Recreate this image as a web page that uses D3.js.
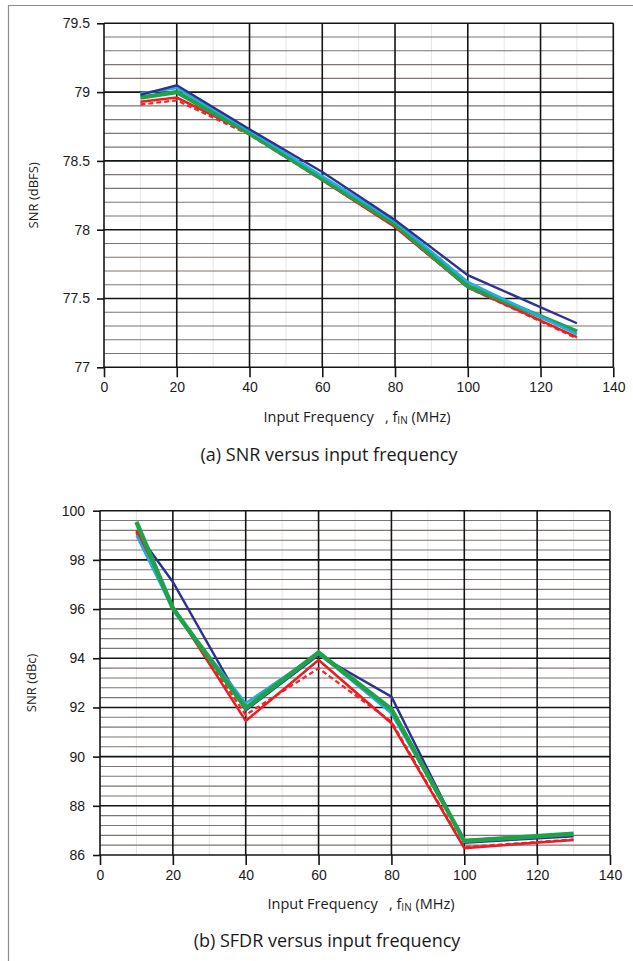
<!DOCTYPE html>
<html><head><meta charset="utf-8">
<script src="https://cdn.jsdelivr.net/npm/d3@7"></script>
<style>
html,body{margin:0;padding:0;background:#fff;}
svg{display:block;font-family:"Open Sans","Noto Sans",sans-serif;}
</style></head>
<body>
<svg id="c" width="633" height="961"></svg>
<script>
// ---------- data ----------
const freqs = [10, 20, 40, 60, 80, 100, 130];
const xTicks = [0, 20, 40, 60, 80, 100, 120, 140];

// (a) SNR (dBFS)
const snrTicks = [77, 77.5, 78, 78.5, 79, 79.5];
const snrNavy   = [78.98, 79.05, 78.73, 78.42, 78.07, 77.67, 77.32];
const snrCyan   = [78.99, 79.03, 78.72, 78.39, 78.06, 77.62, 77.24];
const snrGreen  = [78.96, 79.00, 78.70, 78.37, 78.04, 77.59, 77.26];
const snrRed    = [78.93, 78.96, 78.70, 78.36, 78.02, 77.58, 77.22];
const snrRedDash= [78.91, 78.94, 78.69, 78.36, 78.02, 77.58, 77.21];

// (b) SFDR (dBc)
const sfdrTicks = [86, 88, 90, 92, 94, 96, 98, 100];
const sfdrNavy   = [99.15, 97.10, 91.88, 94.13, 92.44, 86.50, 86.76];
const sfdrCyan   = [99.00, 96.00, 92.17, 94.20, 91.76, 86.60, 86.85];
const sfdrGreen  = [99.55, 96.03, 91.97, 94.23, 91.93, 86.57, 86.86];
const sfdrRed    = [99.21, 96.10, 91.45, 93.93, 91.36, 86.28, 86.61];
const sfdrRedDash= [99.10, 96.05, 91.70, 93.59, 91.42, 86.32, 86.63];

const styles = {
  navy:    {color:"#2e3192", width:2.4, dash:null},
  redDash: {color:"#ee2a24", width:2.3, dash:"5,3"},
  red:     {color:"#ed1c24", width:2.5, dash:null},
  green:   {color:"#1ea34b", width:4.5, dash:null},
  cyan:    {color:"#27aae1", width:2.6, dash:null}
};

const svg = d3.select("#c");

// frame
svg.append("line").attr("x1",8.5).attr("x2",8.5).attr("y1",5).attr("y2",961).attr("stroke","#8c8c8c").attr("stroke-width",1.2);
svg.append("line").attr("x1",8).attr("x2",633).attr("y1",5.5).attr("y2",5.5).attr("stroke","#8c8c8c").attr("stroke-width",1.2);

function drawChart(cfg){
  const g = svg.append("g");
  const x = d3.scaleLinear().domain([0,140]).range([cfg.x0, cfg.x1]);
  const y = d3.scaleLinear().domain(cfg.yDomain).range([cfg.y0, cfg.y1]);

  // faint minor verticals
  g.selectAll(".fv").data(d3.range(10,140,10).filter(v=>v%20!==0)).enter().append("line")
    .attr("x1",d=>x(d)).attr("x2",d=>x(d)).attr("y1",cfg.y1).attr("y2",cfg.y0)
    .attr("stroke","#e6e6e6").attr("stroke-width",1);

  // minor horizontals
  const minors = d3.range(cfg.yDomain[0], cfg.yDomain[1]+1e-9, cfg.minorStep)
    .filter(v => !cfg.ticks.some(t=>Math.abs(t-v)<1e-6));
  g.selectAll(".mh").data(minors).enter().append("line")
    .attr("x1",cfg.x0).attr("x2",cfg.x1).attr("y1",d=>y(d)).attr("y2",d=>y(d))
    .attr("stroke","#7e7471").attr("stroke-width",1.1);

  // major grid
  g.selectAll(".Mh").data(cfg.ticks).enter().append("line")
    .attr("x1",cfg.x0).attr("x2",cfg.x1).attr("y1",d=>y(d)).attr("y2",d=>y(d))
    .attr("stroke","#141414").attr("stroke-width",1.6);
  g.selectAll(".Mv").data(xTicks).enter().append("line")
    .attr("x1",d=>x(d)).attr("x2",d=>x(d)).attr("y1",cfg.y1).attr("y2",cfg.y0)
    .attr("stroke","#141414").attr("stroke-width",1.6);

  // axes
  const ya = g.append("g").attr("transform",`translate(${cfg.x0},0)`)
    .call(d3.axisLeft(y).tickValues(cfg.ticks).tickSize(7).tickPadding(cfg.yPad).tickFormat(d=>d3.format("")(d)));
  const xa = g.append("g").attr("transform",`translate(0,${cfg.y0})`)
    .call(d3.axisBottom(x).tickValues(xTicks).tickSize(10).tickPadding(5).tickFormat(d3.format("d")));
  [ya,xa].forEach(a=>{
    a.select(".domain").remove();
    a.selectAll(".tick line").attr("stroke","#141414").attr("stroke-width",1.6);
    a.selectAll("text").attr("fill","#1a1a1a").attr("font-size",14);
  });

  // series
  const line = d3.line().x((d,i)=>x(freqs[i])).y(d=>y(d));
  cfg.order.forEach(k=>{
    const s = styles[k];
    g.append("path").datum(cfg.data[k]).attr("d",line)
      .attr("fill","none").attr("stroke",s.color).attr("stroke-width",s.width)
      .attr("stroke-linejoin","miter").attr("stroke-dasharray",s.dash);
  });

  // y title
  g.append("text").attr("transform",`translate(${cfg.yTitleX},${(cfg.y0+cfg.y1)/2}) rotate(-90)`)
    .attr("text-anchor","middle").attr("dominant-baseline","middle")
    .attr("font-size",13).attr("fill","#1a1a1a").text(cfg.yTitle);

  // x title
  const xt = g.append("text").attr("x",cfg.xTitleX).attr("y",cfg.xTitleY)
    .attr("text-anchor","middle").attr("dominant-baseline","middle")
    .attr("font-size",14.5).attr("fill","#1a1a1a");
  xt.append("tspan").text("Input Frequency\u00a0\u00a0\u00a0, f");
  xt.append("tspan").attr("font-size",10).attr("dy",3).text("IN");
  xt.append("tspan").attr("dy",-3).text("\u00a0(MHz)");

  // caption
  g.append("text").attr("x",cfg.capX).attr("y",cfg.capY)
    .attr("text-anchor","middle").attr("dominant-baseline","middle")
    .attr("font-size",18).attr("fill","#1a1a1a").text(cfg.caption);
}

drawChart({
  x0:104, x1:613.3, y0:367.3, y1:23.3,
  yDomain:[77,79.5], ticks:snrTicks, minorStep:0.1, yPad:7,
  order:["redDash","red","green","cyan","navy"],
  data:{navy:snrNavy, cyan:snrCyan, green:snrGreen, red:snrRed, redDash:snrRedDash},
  yTitle:"SNR (dBFS)", yTitleX:35,
  xTitleX:357, xTitleY:418,
  caption:"(a) SNR versus input frequency", capX:329, capY:456
});

drawChart({
  x0:100, x1:610, y0:855, y1:510.7,
  yDomain:[86,100], ticks:sfdrTicks, minorStep:0.4, yPad:8,
  order:["navy","redDash","red","cyan","green"],
  data:{navy:sfdrNavy, cyan:sfdrCyan, green:sfdrGreen, red:sfdrRed, redDash:sfdrRedDash},
  yTitle:"SNR (dBc)", yTitleX:33,
  xTitleX:361, xTitleY:905,
  caption:"(b) SFDR versus input frequency", capX:327, capY:942
});
</script>
</body></html>
